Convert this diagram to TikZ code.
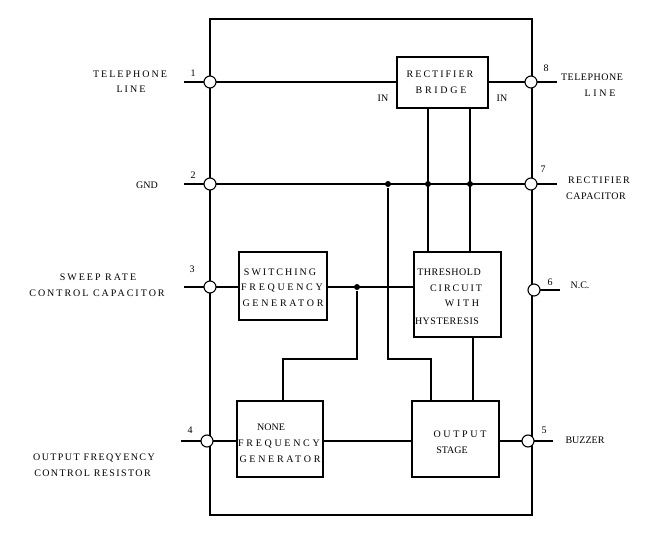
\documentclass[tikz,border=0pt]{standalone}
\usepackage{fontspec}
\setmainfont{Liberation Serif}
\newfontfamily\wfont[LetterSpace=20]{Liberation Serif}
\newfontfamily\wwfont[LetterSpace=27]{Liberation Serif}
\newfontfamily\nfont[LetterSpace=5]{Liberation Serif}
\newfontfamily\mfont[LetterSpace=14]{Liberation Serif}
\begin{document}
\begin{tikzpicture}[x=1pt,y=-1pt,line width=1.1pt,
  txt/.style={inner sep=0pt,text height=7pt,text depth=0pt,font=\fontsize{10}{12}\selectfont},
  wtxt/.style={txt,font=\wfont\fontsize{10}{12}\selectfont},
  wwtxt/.style={txt,font=\wwfont\fontsize{10}{12}\selectfont},
  ntxt/.style={txt,font=\nfont\fontsize{10}{12}\selectfont},
  mtxt/.style={txt,font=\mfont\fontsize{10}{12}\selectfont},
  pin/.style={circle,draw,fill=white,inner sep=0pt,minimum size=12pt},
  blk/.style={draw,inner sep=0pt},
  jdot/.style={circle,fill,inner sep=0pt,minimum size=6pt}]
\useasboundingbox (0,0) rectangle (654,543);
% frame
\draw (210,19) rectangle (532,515);
% blocks
\node[blk,minimum width=91pt,minimum height=51pt] (rb) at (442.5,82.5) {};
\node[blk,minimum width=88pt,minimum height=68pt] (sw) at (283,286) {};
\node[blk,minimum width=87pt,minimum height=85pt] (th) at (457.5,294.5) {};
\node[blk,minimum width=86pt,minimum height=76pt] (nf) at (280,439) {};
\node[blk,minimum width=87pt,minimum height=76pt] (os) at (455.5,439) {};
% stub ends
\coordinate (s1) at (184,82);
\coordinate (s2) at (184,184);
\coordinate (s3) at (184,287);
\coordinate (s4) at (181,441);
\coordinate (s5) at (553,441);
\coordinate (s6) at (560,290);
\coordinate (s7) at (557,184);
\coordinate (s8) at (557,82);
\coordinate (k1) at (431,359);
\coordinate (k2) at (283,359);
\coordinate (k3) at (473,337);
% connectors
\draw (s1) -- (s1 -| rb.west);
\draw (rb.east |- s8) -- (s8);
\draw (s2) -- (s7);
\draw (s3) -- (s3 -| sw.west);
\draw (sw.east |- s3) -- (s3 -| th.west);
\draw (s4) -- (s4 -| nf.west);
\draw (nf.east |- s4) -- (s4 -| os.west);
\draw (os.east |- s5) -- (s5);
\draw (532,290) -- (s6);
\node[jdot] (d1) at (388,184) {};
\node[jdot] (d2) at (428,184) {};
\node[jdot] (d3) at (470,184) {};
\node[jdot] (d4) at (357,287) {};
\draw (rb.south -| d2) -- (th.north -| d2);
\draw (rb.south -| d3) -- (th.north -| d3);
\draw (d1) |- (k1) -- (k1 |- os.north);
\draw (d4) |- (k2) -- (k2 |- nf.north);
\draw (k3 |- th.south) -- (k3 |- os.north);
% pins
\node[pin] (p1) at (210,82) {};
\node[pin] (p2) at (210,184) {};
\node[pin] (p3) at (210,287) {};
\node[pin] (p4) at (207,441) {};
\node[pin] (p5) at (528,441) {};
\node[pin] (p6) at (534,290) {};
\node[pin] (p7) at (531,184) {};
\node[pin] (p8) at (531,82) {};
% pin numbers
\node[txt] (n1) at (193,73) {1};
\node[txt] (n2) at (193,175) {2};
\node[txt] (n3) at (192,269) {3};
\node[txt] (n4) at (190,430) {4};
\node[txt] (n5) at (544,430) {5};
\node[txt] (n6) at (550,282) {6};
\node[txt] (n7) at (543,169) {7};
\node[txt] (n8) at (546,68) {8};
% outside labels
\node[wtxt] (l1a) at (130,74) {TELEPHONE};
\node[wtxt] (l1b) at (131,89) {LINE};
\node[txt] (l2) at (147,185) {GND};
\node[wtxt] (l3a) at (98,277) {SWEEP RATE};
\node[wtxt] (l3b) at (97,293) {CONTROL CAPACITOR};
\node[mtxt] (l4a) at (94,457) {OUTPUT FREQYENCY};
\node[mtxt] (l4b) at (92.5,473) {CONTROL RESISTOR};
\node[ntxt] (l8a) at (592,77) {TELEPHONE};
\node[wwtxt] (l8b) at (600,93) {LINE};
\node[mtxt] (l7a) at (599,180) {RECTIFIER};
\node[ntxt] (l7b) at (596,196) {CAPACITOR};
\node[txt] (l6) at (580,285) {N.C.};
\node[txt] (l5) at (585,440) {BUZZER};
\node[txt] (in1) at (383,98) {IN};
\node[txt] (in2) at (502,98) {IN};
% block texts
\node[wtxt] (t1) at (440,74) {RECTIFIER};
\node[wwtxt] (t2) at (441,90) {BRIDGE};
\node[wtxt] (t3) at (280,272) {SWITCHING};
\node[wwtxt] (t4) at (282,287) {FREQUENCY};
\node[wwtxt] (t5) at (283,303) {GENERATOR};
\node[ntxt] (t6) at (449,272) {THRESHOLD};
\node[wtxt] (t7) at (456,288) {CIRCUIT};
\node[wwtxt] (t8) at (462,303) {WITH};
\node[ntxt] (t9) at (447,321) {HYSTERESIS};
\node[txt] (t10) at (271,427) {NONE};
\node[wwtxt] (t11) at (279,443) {FREQUENCY};
\node[wwtxt] (t12) at (280,459) {GENERATOR};
\node[wwtxt] (t13) at (460,434) {OUTPUT};
\node[txt] (t14) at (452,450) {STAGE};
\end{tikzpicture}
\end{document}
